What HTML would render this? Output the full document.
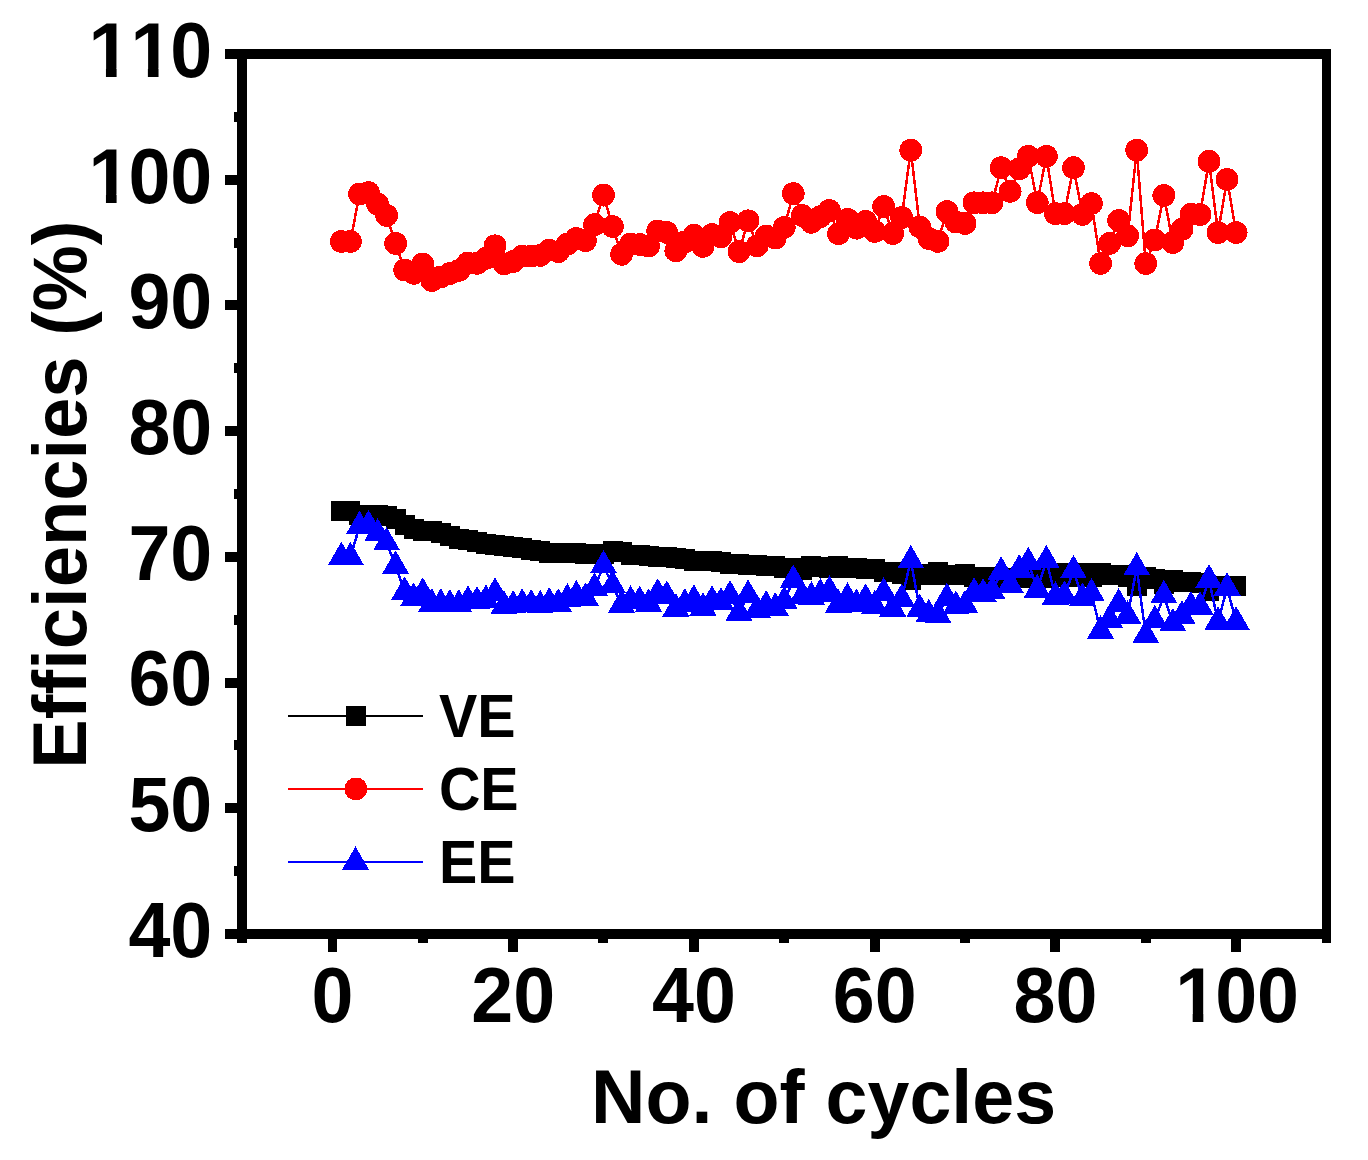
<!DOCTYPE html>
<html lang="en"><head><meta charset="utf-8"><title>Efficiencies vs cycles</title>
<style>
html,body{margin:0;padding:0;background:#fff;}
body{width:1368px;height:1160px;overflow:hidden;}
svg{display:block;}
text{font-kerning:none;font-variant-ligatures:none;font-family:"Liberation Sans",sans-serif;font-weight:bold;fill:#000;}
</style></head><body>
<svg width="1368" height="1160" viewBox="0 0 1368 1160">
<rect width="1368" height="1160" fill="#fff"/>
<g fill="#000" stroke="none" shape-rendering="crispEdges"><polyline fill="none" stroke="#000" stroke-width="2.5" points="341.41,511 350.45,511 359.49,514.6 368.52,514.8 377.56,515 386.6,516.1 395.64,519 404.67,524.6 413.71,528.5 422.75,530.7 431.79,530.9 440.82,532.5 449.86,535.5 458.9,538.7 467.94,540.2 476.98,541.6 486.01,543.6 495.05,544.8 504.09,545.8 513.12,547 522.16,548.4 531.2,549.5 540.24,550.5 549.27,552.7 558.31,552.7 567.35,552.7 576.39,552.8 585.42,554 594.46,554 603.5,554.2 612.54,550.8 621.58,551.8 630.61,554.6 639.65,555 648.69,556 657.72,557.3 666.76,557.3 675.8,557.5 684.84,559.1 693.88,560.9 702.91,560.9 711.95,560.9 720.99,562 730.02,563.6 739.06,563.6 748.1,565 757.14,565 766.17,566.3 775.21,566.3 784.25,567.6 793.29,567.8 802.32,569.5 811.36,566.3 820.4,567 829.44,567.5 838.48,566.3 847.51,567.8 856.55,567.8 865.59,568.8 874.62,568.8 883.66,571.5 892.7,572 901.74,574 910.77,579.7 919.81,574 928.85,574.5 937.89,572 946.92,575 955.96,575 965,574.4 974.04,576.5 983.07,576.5 992.11,577 1001.15,579 1010.19,577.5 1019.23,577.7 1028.26,577.7 1037.3,575.5 1046.34,577.6 1055.38,577.2 1064.41,573 1073.45,576.8 1082.49,573 1091.53,576.5 1100.56,573 1109.6,575.1 1118.64,575.2 1127.67,577 1136.71,586.3 1145.75,577 1154.79,578.8 1163.82,583.8 1172.86,579.7 1181.9,581.9 1190.94,581.9 1199.97,582.5 1209.01,591.2 1218.05,585.8 1227.09,585.8 1236.12,585.8"/><rect x="331.41" y="501" width="20" height="20"/><rect x="340.45" y="501" width="20" height="20"/><rect x="349.49" y="504.6" width="20" height="20"/><rect x="358.52" y="504.8" width="20" height="20"/><rect x="367.56" y="505" width="20" height="20"/><rect x="376.6" y="506.1" width="20" height="20"/><rect x="385.64" y="509" width="20" height="20"/><rect x="394.67" y="514.6" width="20" height="20"/><rect x="403.71" y="518.5" width="20" height="20"/><rect x="412.75" y="520.7" width="20" height="20"/><rect x="421.79" y="520.9" width="20" height="20"/><rect x="430.82" y="522.5" width="20" height="20"/><rect x="439.86" y="525.5" width="20" height="20"/><rect x="448.9" y="528.7" width="20" height="20"/><rect x="457.94" y="530.2" width="20" height="20"/><rect x="466.98" y="531.6" width="20" height="20"/><rect x="476.01" y="533.6" width="20" height="20"/><rect x="485.05" y="534.8" width="20" height="20"/><rect x="494.09" y="535.8" width="20" height="20"/><rect x="503.12" y="537" width="20" height="20"/><rect x="512.16" y="538.4" width="20" height="20"/><rect x="521.2" y="539.5" width="20" height="20"/><rect x="530.24" y="540.5" width="20" height="20"/><rect x="539.27" y="542.7" width="20" height="20"/><rect x="548.31" y="542.7" width="20" height="20"/><rect x="557.35" y="542.7" width="20" height="20"/><rect x="566.39" y="542.8" width="20" height="20"/><rect x="575.42" y="544" width="20" height="20"/><rect x="584.46" y="544" width="20" height="20"/><rect x="593.5" y="544.2" width="20" height="20"/><rect x="602.54" y="540.8" width="20" height="20"/><rect x="611.58" y="541.8" width="20" height="20"/><rect x="620.61" y="544.6" width="20" height="20"/><rect x="629.65" y="545" width="20" height="20"/><rect x="638.69" y="546" width="20" height="20"/><rect x="647.72" y="547.3" width="20" height="20"/><rect x="656.76" y="547.3" width="20" height="20"/><rect x="665.8" y="547.5" width="20" height="20"/><rect x="674.84" y="549.1" width="20" height="20"/><rect x="683.88" y="550.9" width="20" height="20"/><rect x="692.91" y="550.9" width="20" height="20"/><rect x="701.95" y="550.9" width="20" height="20"/><rect x="710.99" y="552" width="20" height="20"/><rect x="720.02" y="553.6" width="20" height="20"/><rect x="729.06" y="553.6" width="20" height="20"/><rect x="738.1" y="555" width="20" height="20"/><rect x="747.14" y="555" width="20" height="20"/><rect x="756.17" y="556.3" width="20" height="20"/><rect x="765.21" y="556.3" width="20" height="20"/><rect x="774.25" y="557.6" width="20" height="20"/><rect x="783.29" y="557.8" width="20" height="20"/><rect x="792.32" y="559.5" width="20" height="20"/><rect x="801.36" y="556.3" width="20" height="20"/><rect x="810.4" y="557" width="20" height="20"/><rect x="819.44" y="557.5" width="20" height="20"/><rect x="828.48" y="556.3" width="20" height="20"/><rect x="837.51" y="557.8" width="20" height="20"/><rect x="846.55" y="557.8" width="20" height="20"/><rect x="855.59" y="558.8" width="20" height="20"/><rect x="864.62" y="558.8" width="20" height="20"/><rect x="873.66" y="561.5" width="20" height="20"/><rect x="882.7" y="562" width="20" height="20"/><rect x="891.74" y="564" width="20" height="20"/><rect x="900.77" y="569.7" width="20" height="20"/><rect x="909.81" y="564" width="20" height="20"/><rect x="918.85" y="564.5" width="20" height="20"/><rect x="927.89" y="562" width="20" height="20"/><rect x="936.92" y="565" width="20" height="20"/><rect x="945.96" y="565" width="20" height="20"/><rect x="955" y="564.4" width="20" height="20"/><rect x="964.04" y="566.5" width="20" height="20"/><rect x="973.07" y="566.5" width="20" height="20"/><rect x="982.11" y="567" width="20" height="20"/><rect x="991.15" y="569" width="20" height="20"/><rect x="1000.19" y="567.5" width="20" height="20"/><rect x="1009.23" y="567.7" width="20" height="20"/><rect x="1018.26" y="567.7" width="20" height="20"/><rect x="1027.3" y="565.5" width="20" height="20"/><rect x="1036.34" y="567.6" width="20" height="20"/><rect x="1045.38" y="567.2" width="20" height="20"/><rect x="1054.41" y="563" width="20" height="20"/><rect x="1063.45" y="566.8" width="20" height="20"/><rect x="1072.49" y="563" width="20" height="20"/><rect x="1081.53" y="566.5" width="20" height="20"/><rect x="1090.56" y="563" width="20" height="20"/><rect x="1099.6" y="565.1" width="20" height="20"/><rect x="1108.64" y="565.2" width="20" height="20"/><rect x="1117.67" y="567" width="20" height="20"/><rect x="1126.71" y="576.3" width="20" height="20"/><rect x="1135.75" y="567" width="20" height="20"/><rect x="1144.79" y="568.8" width="20" height="20"/><rect x="1153.82" y="573.8" width="20" height="20"/><rect x="1162.86" y="569.7" width="20" height="20"/><rect x="1171.9" y="571.9" width="20" height="20"/><rect x="1180.94" y="571.9" width="20" height="20"/><rect x="1189.97" y="572.5" width="20" height="20"/><rect x="1199.01" y="581.2" width="20" height="20"/><rect x="1208.05" y="575.8" width="20" height="20"/><rect x="1217.09" y="575.8" width="20" height="20"/><rect x="1226.12" y="575.8" width="20" height="20"/></g>
<g fill="#f00" stroke="none" shape-rendering="crispEdges"><polyline fill="none" stroke="#f00" stroke-width="2.5" points="341.41,241.5 350.45,241.5 359.49,194 368.52,192.6 377.56,204 386.6,215.4 395.64,243.5 404.67,270 413.71,273.3 422.75,264 431.79,280.6 440.82,277 449.86,273.5 458.9,270.4 467.94,263 476.98,263.3 486.01,258.3 495.05,245.8 504.09,263.8 513.12,261.6 522.16,256.1 531.2,256.1 540.24,255.4 549.27,250.2 558.31,251.7 567.35,244 576.39,238.5 585.42,240.7 594.46,224.7 603.5,195.1 612.54,226.5 621.58,254.3 630.61,244 639.65,244.5 648.69,246 657.72,230.9 666.76,232.4 675.8,250.8 684.84,241.8 693.88,235.3 702.91,246.4 711.95,234.6 720.99,237 730.02,222.5 739.06,251.7 748.1,220.8 757.14,245.8 766.17,236 775.21,238.1 784.25,227.4 793.29,193.6 802.32,215.5 811.36,222.3 820.4,216.6 829.44,210.5 838.48,233.7 847.51,219.3 856.55,228.2 865.59,221.4 874.62,231.5 883.66,206.5 892.7,233.5 901.74,217.5 910.77,150.2 919.81,226.9 928.85,238.5 937.89,241.4 946.92,211.6 955.96,222 965,223.4 974.04,202.8 983.07,202.8 992.11,202.8 1001.15,167.7 1010.19,191.4 1019.23,168.8 1028.26,156.3 1037.3,202.6 1046.34,156.3 1055.38,213.6 1064.41,213.6 1073.45,167.7 1082.49,214.4 1091.53,203.5 1100.56,263.5 1109.6,243.4 1118.64,220.5 1127.67,235.8 1136.71,150.2 1145.75,263.6 1154.79,240 1163.82,195.4 1172.86,242.5 1181.9,229.3 1190.94,214.3 1199.97,214.6 1209.01,161.3 1218.05,232.6 1227.09,179.4 1236.12,232.6"/><circle cx="341.41" cy="241.5" r="11.4"/><circle cx="350.45" cy="241.5" r="11.4"/><circle cx="359.49" cy="194" r="11.4"/><circle cx="368.52" cy="192.6" r="11.4"/><circle cx="377.56" cy="204" r="11.4"/><circle cx="386.6" cy="215.4" r="11.4"/><circle cx="395.64" cy="243.5" r="11.4"/><circle cx="404.67" cy="270" r="11.4"/><circle cx="413.71" cy="273.3" r="11.4"/><circle cx="422.75" cy="264" r="11.4"/><circle cx="431.79" cy="280.6" r="11.4"/><circle cx="440.82" cy="277" r="11.4"/><circle cx="449.86" cy="273.5" r="11.4"/><circle cx="458.9" cy="270.4" r="11.4"/><circle cx="467.94" cy="263" r="11.4"/><circle cx="476.98" cy="263.3" r="11.4"/><circle cx="486.01" cy="258.3" r="11.4"/><circle cx="495.05" cy="245.8" r="11.4"/><circle cx="504.09" cy="263.8" r="11.4"/><circle cx="513.12" cy="261.6" r="11.4"/><circle cx="522.16" cy="256.1" r="11.4"/><circle cx="531.2" cy="256.1" r="11.4"/><circle cx="540.24" cy="255.4" r="11.4"/><circle cx="549.27" cy="250.2" r="11.4"/><circle cx="558.31" cy="251.7" r="11.4"/><circle cx="567.35" cy="244" r="11.4"/><circle cx="576.39" cy="238.5" r="11.4"/><circle cx="585.42" cy="240.7" r="11.4"/><circle cx="594.46" cy="224.7" r="11.4"/><circle cx="603.5" cy="195.1" r="11.4"/><circle cx="612.54" cy="226.5" r="11.4"/><circle cx="621.58" cy="254.3" r="11.4"/><circle cx="630.61" cy="244" r="11.4"/><circle cx="639.65" cy="244.5" r="11.4"/><circle cx="648.69" cy="246" r="11.4"/><circle cx="657.72" cy="230.9" r="11.4"/><circle cx="666.76" cy="232.4" r="11.4"/><circle cx="675.8" cy="250.8" r="11.4"/><circle cx="684.84" cy="241.8" r="11.4"/><circle cx="693.88" cy="235.3" r="11.4"/><circle cx="702.91" cy="246.4" r="11.4"/><circle cx="711.95" cy="234.6" r="11.4"/><circle cx="720.99" cy="237" r="11.4"/><circle cx="730.02" cy="222.5" r="11.4"/><circle cx="739.06" cy="251.7" r="11.4"/><circle cx="748.1" cy="220.8" r="11.4"/><circle cx="757.14" cy="245.8" r="11.4"/><circle cx="766.17" cy="236" r="11.4"/><circle cx="775.21" cy="238.1" r="11.4"/><circle cx="784.25" cy="227.4" r="11.4"/><circle cx="793.29" cy="193.6" r="11.4"/><circle cx="802.32" cy="215.5" r="11.4"/><circle cx="811.36" cy="222.3" r="11.4"/><circle cx="820.4" cy="216.6" r="11.4"/><circle cx="829.44" cy="210.5" r="11.4"/><circle cx="838.48" cy="233.7" r="11.4"/><circle cx="847.51" cy="219.3" r="11.4"/><circle cx="856.55" cy="228.2" r="11.4"/><circle cx="865.59" cy="221.4" r="11.4"/><circle cx="874.62" cy="231.5" r="11.4"/><circle cx="883.66" cy="206.5" r="11.4"/><circle cx="892.7" cy="233.5" r="11.4"/><circle cx="901.74" cy="217.5" r="11.4"/><circle cx="910.77" cy="150.2" r="11.4"/><circle cx="919.81" cy="226.9" r="11.4"/><circle cx="928.85" cy="238.5" r="11.4"/><circle cx="937.89" cy="241.4" r="11.4"/><circle cx="946.92" cy="211.6" r="11.4"/><circle cx="955.96" cy="222" r="11.4"/><circle cx="965" cy="223.4" r="11.4"/><circle cx="974.04" cy="202.8" r="11.4"/><circle cx="983.07" cy="202.8" r="11.4"/><circle cx="992.11" cy="202.8" r="11.4"/><circle cx="1001.15" cy="167.7" r="11.4"/><circle cx="1010.19" cy="191.4" r="11.4"/><circle cx="1019.23" cy="168.8" r="11.4"/><circle cx="1028.26" cy="156.3" r="11.4"/><circle cx="1037.3" cy="202.6" r="11.4"/><circle cx="1046.34" cy="156.3" r="11.4"/><circle cx="1055.38" cy="213.6" r="11.4"/><circle cx="1064.41" cy="213.6" r="11.4"/><circle cx="1073.45" cy="167.7" r="11.4"/><circle cx="1082.49" cy="214.4" r="11.4"/><circle cx="1091.53" cy="203.5" r="11.4"/><circle cx="1100.56" cy="263.5" r="11.4"/><circle cx="1109.6" cy="243.4" r="11.4"/><circle cx="1118.64" cy="220.5" r="11.4"/><circle cx="1127.67" cy="235.8" r="11.4"/><circle cx="1136.71" cy="150.2" r="11.4"/><circle cx="1145.75" cy="263.6" r="11.4"/><circle cx="1154.79" cy="240" r="11.4"/><circle cx="1163.82" cy="195.4" r="11.4"/><circle cx="1172.86" cy="242.5" r="11.4"/><circle cx="1181.9" cy="229.3" r="11.4"/><circle cx="1190.94" cy="214.3" r="11.4"/><circle cx="1199.97" cy="214.6" r="11.4"/><circle cx="1209.01" cy="161.3" r="11.4"/><circle cx="1218.05" cy="232.6" r="11.4"/><circle cx="1227.09" cy="179.4" r="11.4"/><circle cx="1236.12" cy="232.6" r="11.4"/></g>
<g fill="#00f" stroke="none" shape-rendering="crispEdges"><polyline fill="none" stroke="#00f" stroke-width="2.5" points="341.41,557.3 350.45,557.3 359.49,526.3 368.52,525.4 377.56,533.6 386.6,542.6 395.64,566 404.67,591.9 413.71,598 422.75,592.9 431.79,603.8 440.82,603.8 449.86,604.6 458.9,604.6 467.94,600.9 476.98,601.6 486.01,599.9 495.05,592.9 504.09,606 513.12,605.6 522.16,603.8 531.2,604.6 540.24,605.6 549.27,602.7 558.31,603.8 567.35,598.8 576.39,595.5 585.42,598 594.46,588 603.5,565.5 612.54,585.4 621.58,604.8 630.61,600.9 639.65,601.2 648.69,604 657.72,593.8 666.76,596 675.8,608.7 684.84,603.8 693.88,600 702.91,607.7 711.95,600.9 720.99,602.6 730.02,595.7 739.06,612.8 748.1,595 757.14,609.8 766.17,605.6 775.21,607.7 784.25,601.2 793.29,580 802.32,596 811.36,596.8 820.4,593.8 829.44,590.9 838.48,604.8 847.51,597.9 856.55,604.1 865.59,599 874.62,605.8 883.66,592.7 892.7,608.7 901.74,599 910.77,560.6 919.81,609.2 928.85,614.5 937.89,615 946.92,598.2 955.96,606.3 965,605.5 974.04,592.8 983.07,593.8 992.11,591.6 1001.15,571.9 1010.19,584.8 1019.23,569.7 1028.26,562.4 1037.3,589.7 1046.34,560.5 1055.38,596.8 1064.41,596 1073.45,570.5 1082.49,598.2 1091.53,593.6 1100.56,630.9 1109.6,619.9 1118.64,603.8 1127.67,615.8 1136.71,567.6 1145.75,635.3 1154.79,620.6 1163.82,595.4 1172.86,623.6 1181.9,615.8 1190.94,606.5 1199.97,606.8 1209.01,579.7 1218.05,621.7 1227.09,587.8 1236.12,621.7"/><path d="M341.41 541.7l13.5 23.4h-27z"/><path d="M350.45 541.7l13.5 23.4h-27z"/><path d="M359.49 510.7l13.5 23.4h-27z"/><path d="M368.52 509.8l13.5 23.4h-27z"/><path d="M377.56 518l13.5 23.4h-27z"/><path d="M386.6 527l13.5 23.4h-27z"/><path d="M395.64 550.4l13.5 23.4h-27z"/><path d="M404.67 576.3l13.5 23.4h-27z"/><path d="M413.71 582.4l13.5 23.4h-27z"/><path d="M422.75 577.3l13.5 23.4h-27z"/><path d="M431.79 588.2l13.5 23.4h-27z"/><path d="M440.82 588.2l13.5 23.4h-27z"/><path d="M449.86 589l13.5 23.4h-27z"/><path d="M458.9 589l13.5 23.4h-27z"/><path d="M467.94 585.3l13.5 23.4h-27z"/><path d="M476.98 586l13.5 23.4h-27z"/><path d="M486.01 584.3l13.5 23.4h-27z"/><path d="M495.05 577.3l13.5 23.4h-27z"/><path d="M504.09 590.4l13.5 23.4h-27z"/><path d="M513.12 590l13.5 23.4h-27z"/><path d="M522.16 588.2l13.5 23.4h-27z"/><path d="M531.2 589l13.5 23.4h-27z"/><path d="M540.24 590l13.5 23.4h-27z"/><path d="M549.27 587.1l13.5 23.4h-27z"/><path d="M558.31 588.2l13.5 23.4h-27z"/><path d="M567.35 583.2l13.5 23.4h-27z"/><path d="M576.39 579.9l13.5 23.4h-27z"/><path d="M585.42 582.4l13.5 23.4h-27z"/><path d="M594.46 572.4l13.5 23.4h-27z"/><path d="M603.5 549.9l13.5 23.4h-27z"/><path d="M612.54 569.8l13.5 23.4h-27z"/><path d="M621.58 589.2l13.5 23.4h-27z"/><path d="M630.61 585.3l13.5 23.4h-27z"/><path d="M639.65 585.6l13.5 23.4h-27z"/><path d="M648.69 588.4l13.5 23.4h-27z"/><path d="M657.72 578.2l13.5 23.4h-27z"/><path d="M666.76 580.4l13.5 23.4h-27z"/><path d="M675.8 593.1l13.5 23.4h-27z"/><path d="M684.84 588.2l13.5 23.4h-27z"/><path d="M693.88 584.4l13.5 23.4h-27z"/><path d="M702.91 592.1l13.5 23.4h-27z"/><path d="M711.95 585.3l13.5 23.4h-27z"/><path d="M720.99 587l13.5 23.4h-27z"/><path d="M730.02 580.1l13.5 23.4h-27z"/><path d="M739.06 597.2l13.5 23.4h-27z"/><path d="M748.1 579.4l13.5 23.4h-27z"/><path d="M757.14 594.2l13.5 23.4h-27z"/><path d="M766.17 590l13.5 23.4h-27z"/><path d="M775.21 592.1l13.5 23.4h-27z"/><path d="M784.25 585.6l13.5 23.4h-27z"/><path d="M793.29 564.4l13.5 23.4h-27z"/><path d="M802.32 580.4l13.5 23.4h-27z"/><path d="M811.36 581.2l13.5 23.4h-27z"/><path d="M820.4 578.2l13.5 23.4h-27z"/><path d="M829.44 575.3l13.5 23.4h-27z"/><path d="M838.48 589.2l13.5 23.4h-27z"/><path d="M847.51 582.3l13.5 23.4h-27z"/><path d="M856.55 588.5l13.5 23.4h-27z"/><path d="M865.59 583.4l13.5 23.4h-27z"/><path d="M874.62 590.2l13.5 23.4h-27z"/><path d="M883.66 577.1l13.5 23.4h-27z"/><path d="M892.7 593.1l13.5 23.4h-27z"/><path d="M901.74 583.4l13.5 23.4h-27z"/><path d="M910.77 545l13.5 23.4h-27z"/><path d="M919.81 593.6l13.5 23.4h-27z"/><path d="M928.85 598.9l13.5 23.4h-27z"/><path d="M937.89 599.4l13.5 23.4h-27z"/><path d="M946.92 582.6l13.5 23.4h-27z"/><path d="M955.96 590.7l13.5 23.4h-27z"/><path d="M965 589.9l13.5 23.4h-27z"/><path d="M974.04 577.2l13.5 23.4h-27z"/><path d="M983.07 578.2l13.5 23.4h-27z"/><path d="M992.11 576l13.5 23.4h-27z"/><path d="M1001.15 556.3l13.5 23.4h-27z"/><path d="M1010.19 569.2l13.5 23.4h-27z"/><path d="M1019.23 554.1l13.5 23.4h-27z"/><path d="M1028.26 546.8l13.5 23.4h-27z"/><path d="M1037.3 574.1l13.5 23.4h-27z"/><path d="M1046.34 544.9l13.5 23.4h-27z"/><path d="M1055.38 581.2l13.5 23.4h-27z"/><path d="M1064.41 580.4l13.5 23.4h-27z"/><path d="M1073.45 554.9l13.5 23.4h-27z"/><path d="M1082.49 582.6l13.5 23.4h-27z"/><path d="M1091.53 578l13.5 23.4h-27z"/><path d="M1100.56 615.3l13.5 23.4h-27z"/><path d="M1109.6 604.3l13.5 23.4h-27z"/><path d="M1118.64 588.2l13.5 23.4h-27z"/><path d="M1127.67 600.2l13.5 23.4h-27z"/><path d="M1136.71 552l13.5 23.4h-27z"/><path d="M1145.75 619.7l13.5 23.4h-27z"/><path d="M1154.79 605l13.5 23.4h-27z"/><path d="M1163.82 579.8l13.5 23.4h-27z"/><path d="M1172.86 608l13.5 23.4h-27z"/><path d="M1181.9 600.2l13.5 23.4h-27z"/><path d="M1190.94 590.9l13.5 23.4h-27z"/><path d="M1199.97 591.2l13.5 23.4h-27z"/><path d="M1209.01 564.1l13.5 23.4h-27z"/><path d="M1218.05 606.1l13.5 23.4h-27z"/><path d="M1227.09 572.2l13.5 23.4h-27z"/><path d="M1236.12 606.1l13.5 23.4h-27z"/></g>
<g fill="#000" shape-rendering="crispEdges"><rect x="225" y="49" width="1106" height="10"/><rect x="225" y="929" width="1106" height="10"/><rect x="237" y="49" width="10" height="894"/><rect x="1322" y="49" width="9" height="894"/><rect x="225" y="49" width="13" height="10"/><rect x="225" y="175" width="13" height="10"/><rect x="225" y="300" width="13" height="10"/><rect x="225" y="426" width="13" height="10"/><rect x="225" y="552" width="13" height="10"/><rect x="225" y="678" width="13" height="10"/><rect x="225" y="803" width="13" height="10"/><rect x="225" y="929" width="13" height="10"/><rect x="234" y="112" width="4" height="10"/><rect x="234" y="238" width="4" height="10"/><rect x="234" y="363" width="4" height="10"/><rect x="234" y="489" width="4" height="10"/><rect x="234" y="615" width="4" height="10"/><rect x="234" y="740" width="4" height="10"/><rect x="234" y="866" width="4" height="10"/><rect x="328" y="938" width="9" height="14"/><rect x="508" y="938" width="10" height="14"/><rect x="689" y="938" width="10" height="14"/><rect x="870" y="938" width="10" height="14"/><rect x="1050" y="938" width="10" height="14"/><rect x="1231" y="938" width="10" height="14"/><rect x="418" y="938" width="10" height="5"/><rect x="598" y="938" width="10" height="5"/><rect x="779" y="938" width="10" height="5"/><rect x="960" y="938" width="10" height="5"/><rect x="1141" y="938" width="10" height="5"/></g>
<g><clipPath id="c1"><rect x="81.5" y="6.9" width="135.8" height="61.7"/><rect x="105.95" y="67.9" width="10.65" height="11"/><rect x="147.88" y="67.9" width="10.65" height="11"/><rect x="172.97" y="67.9" width="41.93" height="13"/></clipPath><g clip-path="url(#c1)"><text transform="translate(86.5,76.9) scale(1,1.04)" font-size="75.4" text-anchor="start" dx="2 0 -2">110</text></g><clipPath id="c2"><rect x="81.5" y="132.61" width="135.8" height="61.7"/><rect x="105.95" y="193.61" width="10.65" height="11"/><rect x="131.03" y="193.61" width="41.93" height="13"/><rect x="172.97" y="193.61" width="41.93" height="13"/></clipPath><g clip-path="url(#c2)"><text transform="translate(86.5,202.61) scale(1,1.04)" font-size="75.4" text-anchor="start" dx="2 -2 0">100</text></g><text transform="translate(212.3,328.33) scale(1,1.04)" font-size="75.4" text-anchor="end">90</text><text transform="translate(212.3,454.04) scale(1,1.04)" font-size="75.4" text-anchor="end">80</text><text transform="translate(212.3,579.76) scale(1,1.04)" font-size="75.4" text-anchor="end">70</text><text transform="translate(212.3,705.47) scale(1,1.04)" font-size="75.4" text-anchor="end">60</text><text transform="translate(212.3,831.18) scale(1,1.04)" font-size="75.4" text-anchor="end">50</text><text transform="translate(212.3,956.9) scale(1,1.04)" font-size="75.4" text-anchor="end">40</text><text transform="translate(332.38,1022.1) scale(1,1.04)" font-size="75.4" text-anchor="middle">0</text><text transform="translate(513.12,1022.1) scale(1,1.04)" font-size="75.4" text-anchor="middle">20</text><text transform="translate(693.88,1022.1) scale(1,1.04)" font-size="75.4" text-anchor="middle">40</text><text transform="translate(874.62,1022.1) scale(1,1.04)" font-size="75.4" text-anchor="middle">60</text><text transform="translate(1055.38,1022.1) scale(1,1.04)" font-size="75.4" text-anchor="middle">80</text><clipPath id="c3"><rect x="1168.22" y="952.1" width="135.8" height="61.7"/><rect x="1192.67" y="1013.1" width="10.65" height="11"/><rect x="1217.76" y="1013.1" width="41.93" height="13"/><rect x="1259.69" y="1013.1" width="41.93" height="13"/></clipPath><g clip-path="url(#c3)"><text transform="translate(1173.22,1022.1) scale(1,1.04)" font-size="75.4" text-anchor="start" dx="2 -2 0">100</text></g><text transform="translate(591.1,1122.7) scale(1,1.005)" font-size="75.4" text-anchor="start">No. of cycles</text><text transform="translate(85.9,768.7) rotate(-90) scale(0.984,1.005)" font-size="75.4" text-anchor="start">Efficiencies (%)</text></g>
<g shape-rendering="crispEdges"><rect x="288" y="715" width="135" height="2" fill="#000"/><rect x="346" y="706" width="20" height="20" fill="#000"/><rect x="288" y="788" width="135" height="2" fill="#f00"/><circle cx="356" cy="789" r="11.4" fill="#f00"/><rect x="288" y="861" width="135" height="2" fill="#00f"/><path d="M355.5 846.4l13.5 23.4h-27z" fill="#00f"/></g><g><text transform="translate(438.9,736.9) scale(1,1.066)" font-size="57.4" text-anchor="start">VE</text><text transform="translate(438.9,810) scale(1,1.066)" font-size="57.4" text-anchor="start">CE</text><text transform="translate(438.9,883.1) scale(1,1.066)" font-size="57.4" text-anchor="start">EE</text></g>
</svg></body></html>
